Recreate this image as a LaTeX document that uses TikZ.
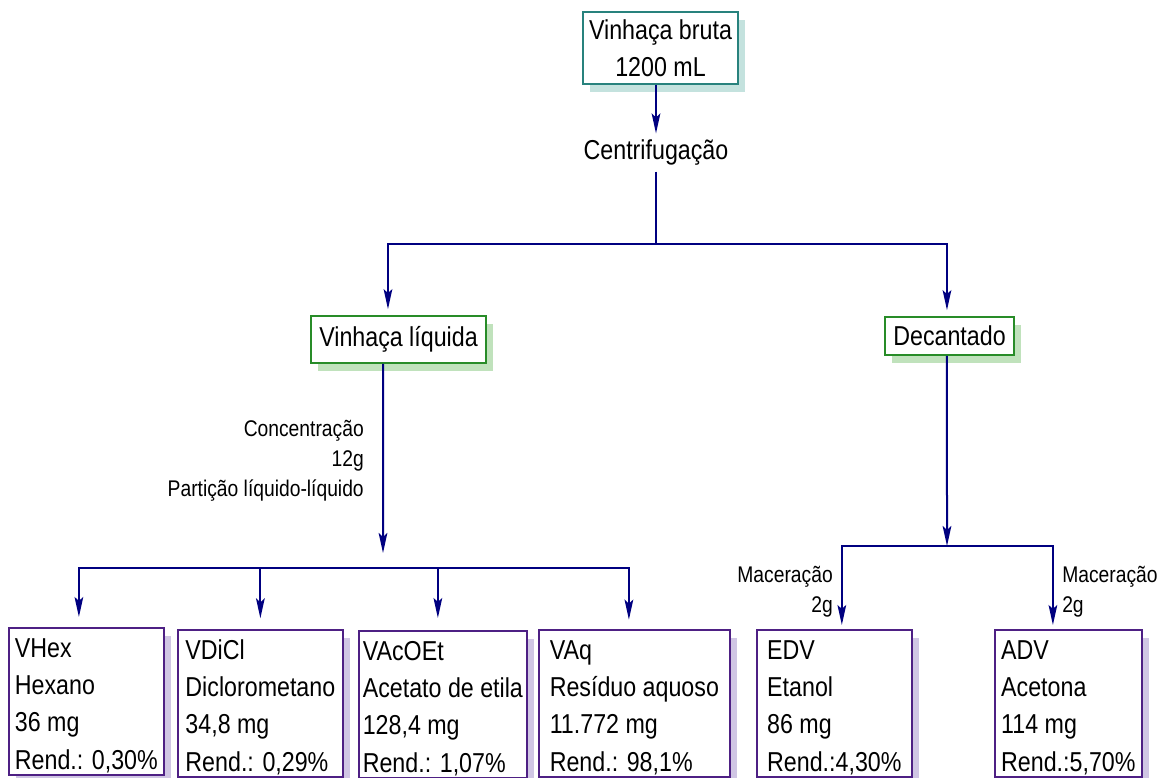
\documentclass[tikz,border=0pt]{standalone}
\usepackage{fontspec}
\setmainfont{Liberation Sans}[FakeStretch=0.85]
\usetikzlibrary{arrows.meta,shadows}
\definecolor{flowline}{RGB}{0,0,128}
\definecolor{tealedge}{RGB}{40,130,125}
\definecolor{tealshade}{RGB}{196,226,222}
\definecolor{greenedge}{RGB}{40,140,40}
\definecolor{greenshade}{RGB}{192,226,188}
\definecolor{purpleedge}{RGB}{78,32,132}
\definecolor{purpleshade}{RGB}{208,198,228}

\begin{document}
\begin{tikzpicture}[
        x=0.75pt, y=-0.75pt,
        big/.style={font=\fontsize{20.5}{28}\selectfont},
        small/.style={font=\fontsize{17}{22.5}\selectfont, inner sep=0pt},
        box/.style={big, draw, line width=1.3pt, fill=white, inner sep=0pt},
        shade/.style={drop shadow={shadow xshift=5.25pt, shadow yshift=-6pt, fill=#1, opacity=1}},
        startbox/.style={box, draw=tealedge, align=center, shade=tealshade},
        stagebox/.style={box, draw=greenedge, shade=greenshade},
        leafbox/.style={box, draw=purpleedge, align=left, anchor=north west,
            text height=106pt, text depth=4.5pt, shade=purpleshade},
        link/.style={draw=flowline, line width=1.5pt},
        arr/.style={link, -{Stealth[length=15pt,width=6.5pt,inset=3pt]}},
    ]
    \useasboundingbox (0,0) rectangle (1161,778);

    \node[startbox, minimum width=116.25pt, minimum height=54pt] (bruta) at (660.5,48) {Vinhaça bruta\\1200 mL};
    \node[big, inner xsep=0pt, inner ysep=4.5pt] (centrif) at (656,152.5) {Centrifugação};
    \node[stagebox, minimum width=131.25pt, minimum height=35.25pt] (liquida) at (398.5,339.5) {Vinhaça líquida};
    \node[stagebox, minimum width=96.75pt, minimum height=28.5pt] (decant) at (949.5,336) {Decantado};
    \node[small, align=right, anchor=east] (conc) at (364,461) {Concentração\\12g\\Partição líquido-líquido};

    \node[leafbox, minimum width=116.25pt] (vhex) at (8,627) {VHex\\Hexano\\36 mg\\Rend.: 0,30\%};
    \node[leafbox, minimum width=123.75pt] (vdicl) at (177,629) {VDiCl\\Diclorometano\\34,8 mg\\Rend.: 0,29\%};
    \node[leafbox, minimum width=126pt] (vacoet) at (358,630) {VAcOEt\\Acetato de etila\\128,4 mg\\Rend.: 1,07\%};
    \node[leafbox, minimum width=143.25pt] (vaq) at (538,629) {VAq\\Resíduo aquoso\\11.772 mg\\Rend.: 98,1\%};
    \node[leafbox, minimum width=116.25pt] (edv) at (756,629) {EDV\\Etanol\\86 mg\\Rend.:4,30\%};
    \node[leafbox, minimum width=110.25pt] (adv) at (994,629) {ADV\\Acetona\\114 mg\\Rend.:5,70\%};

    \node[small, align=right, anchor=east] (macedv) at (833,592) {Maceração\\2g};
    \node[small, align=left, anchor=west] (macadv) at (1062,592) {Maceração\\2g};

    \coordinate (split) at (656,244);
    \coordinate (partend) at (383,553);
    \coordinate (barleft) at (383,568);
    \coordinate (barright) at (947,546);

    \draw[arr] (bruta.south -| centrif) -- (centrif.north);
    \draw[link] (centrif.south) -- (split);
    \draw[arr, shorten >=4.5pt] (split) -| ([xshift=-7.9pt]liquida.north);
    \draw[arr, shorten >=4.5pt] (split) -| ([xshift=-1.9pt]decant.north);

    \draw[arr] ([xshift=-11.6pt]liquida.south) -- (partend);
    \draw[arr, shorten >=7.5pt] (barleft) -| ([xshift=-5.6pt]vhex.north);
    \draw[arr, shorten >=8pt] (barleft) -| (vdicl.north);
    \draw[arr, shorten >=9pt] (barleft) -| ([xshift=-3.75pt]vacoet.north);
    \draw[arr, shorten >=7pt] (barleft) -| ([xshift=-4.1pt]vaq.north);

    \draw[arr] ([xshift=-1.9pt]decant.south) -- (barright);
    \draw[arr, shorten >=3pt] (barright) -| ([xshift=5.6pt]edv.north);
    \draw[arr, shorten >=3pt] (barright) -| ([xshift=-11.6pt]adv.north);

    \end{tikzpicture}
\end{document}
